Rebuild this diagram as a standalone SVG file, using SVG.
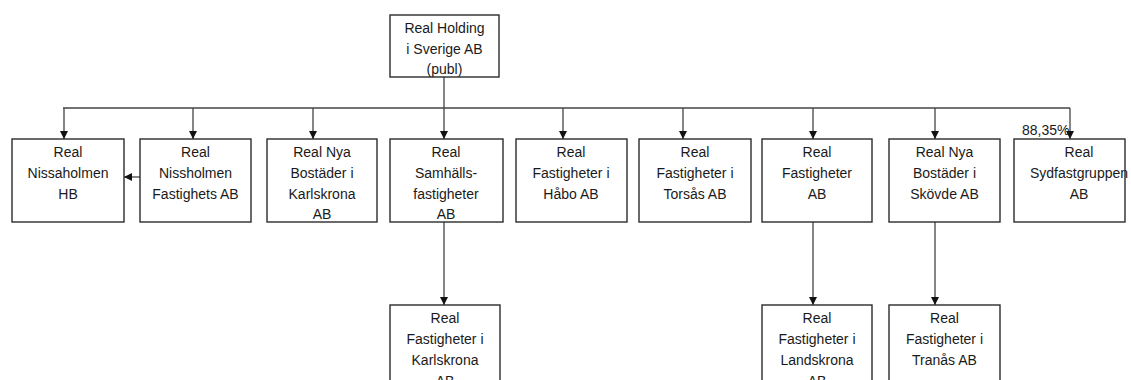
<svg xmlns="http://www.w3.org/2000/svg" width="1131" height="380" viewBox="0 0 1131 380">
<style>
.box{fill:#fff;stroke:#2b2b2b;stroke-width:1.4}
.t{font-family:"Liberation Sans",Arial,sans-serif;font-size:14px;fill:#1a1a1a;text-anchor:middle}
.c{fill:none;stroke:#444;stroke-width:1.3}
.p{font-family:"Liberation Sans",Arial,sans-serif;font-size:14px;fill:#1a1a1a}
</style>
<defs>
<marker id="ah" viewBox="0 0 10 10" refX="10" refY="5" markerWidth="8" markerHeight="8" markerUnits="userSpaceOnUse" orient="auto">
<path d="M0,0 L10,5 L0,10 Z" fill="#111"/>
</marker>
</defs>
<g id="connectors">
<path class="c" d="M444,77 V108"/>
<path class="c" d="M63,108 H1070"/>
<path class="c" d="M64,108 V139" marker-end="url(#ah)"/>
<path class="c" d="M193,108 V139" marker-end="url(#ah)"/>
<path class="c" d="M313,108 V139" marker-end="url(#ah)"/>
<path class="c" d="M444,108 V139" marker-end="url(#ah)"/>
<path class="c" d="M563,108 V139" marker-end="url(#ah)"/>
<path class="c" d="M683,108 V139" marker-end="url(#ah)"/>
<path class="c" d="M813,108 V139" marker-end="url(#ah)"/>
<path class="c" d="M935,108 V139" marker-end="url(#ah)"/>
<path class="c" d="M1070,108 V139" marker-end="url(#ah)"/>
<path class="c" d="M140,177 H124" marker-end="url(#ah)"/>
<path class="c" d="M444,222 V305" marker-end="url(#ah)"/>
<path class="c" d="M813,222 V305" marker-end="url(#ah)"/>
<path class="c" d="M935,222 V305" marker-end="url(#ah)"/>
</g>
<g id="n0"><rect class="box" x="390" y="15" width="109" height="62"/><text class="t" x="444.5" y="33">Real Holding</text><text class="t" x="444.5" y="54">i Sverige AB</text><text class="t" x="444.5" y="74">(publ)</text></g>
<g id="n1"><rect class="box" x="12" y="139" width="112" height="83"/><text class="t" x="68" y="157">Real</text><text class="t" x="68" y="178">Nissaholmen</text><text class="t" x="68" y="199">HB</text></g>
<g id="n2"><rect class="box" x="140" y="139" width="111" height="83"/><text class="t" x="195.5" y="157">Real</text><text class="t" x="195.5" y="178">Nissholmen</text><text class="t" x="195.5" y="199">Fastighets AB</text></g>
<g id="n3"><rect class="box" x="267" y="139" width="110" height="83"/><text class="t" x="322" y="157">Real Nya</text><text class="t" x="322" y="178">Bostäder i</text><text class="t" x="322" y="199">Karlskrona</text><text class="t" x="322" y="219">AB</text></g>
<g id="n4"><rect class="box" x="390" y="139" width="113" height="83"/><text class="t" x="446" y="157">Real</text><text class="t" x="446" y="178">Samhälls-</text><text class="t" x="446" y="199">fastigheter</text><text class="t" x="446" y="219">AB</text></g>
<g id="n5"><rect class="box" x="516" y="139" width="111" height="83"/><text class="t" x="571" y="157">Real</text><text class="t" x="571" y="178">Fastigheter i</text><text class="t" x="571" y="199">Håbo AB</text></g>
<g id="n6"><rect class="box" x="639" y="139" width="112" height="83"/><text class="t" x="695" y="157">Real</text><text class="t" x="695" y="178">Fastigheter i</text><text class="t" x="695" y="199">Torsås AB</text></g>
<g id="n7"><rect class="box" x="762" y="139" width="110" height="83"/><text class="t" x="817" y="157">Real</text><text class="t" x="817" y="178">Fastigheter</text><text class="t" x="817" y="199">AB</text></g>
<g id="n8"><rect class="box" x="889" y="139" width="111" height="83"/><text class="t" x="944.5" y="157">Real Nya</text><text class="t" x="944.5" y="178">Bostäder i</text><text class="t" x="944.5" y="199">Skövde AB</text></g>
<g id="n9"><rect class="box" x="1014" y="139" width="111" height="83"/><text class="t" x="1079" y="157">Real</text><text class="t" x="1079" y="178">Sydfastgruppen</text><text class="t" x="1079" y="199">AB</text></g>
<text class="p" x="1022" y="135">88,35%</text>
<g id="n10"><rect class="box" x="390" y="305" width="110" height="85"/><text class="t" x="445" y="323">Real</text><text class="t" x="445" y="344">Fastigheter i</text><text class="t" x="445" y="365">Karlskrona</text><text class="t" x="445" y="386">AB</text></g>
<g id="n11"><rect class="box" x="762" y="305" width="110" height="85"/><text class="t" x="817" y="323">Real</text><text class="t" x="817" y="344">Fastigheter i</text><text class="t" x="817" y="365">Landskrona</text><text class="t" x="817" y="386">AB</text></g>
<g id="n12"><rect class="box" x="889" y="305" width="111" height="85"/><text class="t" x="944.5" y="323">Real</text><text class="t" x="944.5" y="344">Fastigheter i</text><text class="t" x="944.5" y="365">Tranås AB</text></g>
</svg>
